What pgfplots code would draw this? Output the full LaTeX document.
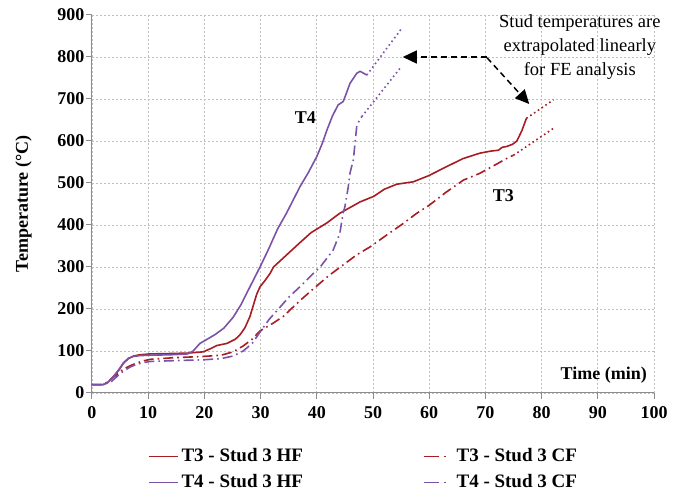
\documentclass[border=0pt]{standalone}
\usepackage{fontspec}
\setmainfont{Liberation Serif}
\usepackage{pgfplots}
\pgfplotsset{compat=1.18}
\usetikzlibrary{arrows.meta}
\definecolor{cred}{RGB}{168,28,36}
\definecolor{cpur}{RGB}{122,82,168}
\definecolor{cgrid}{RGB}{190,190,190}
\definecolor{caxis}{RGB}{140,140,140}
\pgfplotsset{
 hfimg/.style={legend image code/.code={\draw[##1, line width=1.6pt] (0pt,0pt)--(29pt,0pt);}},
 cfimg/.style={legend image code/.code={\draw[##1, line width=1.6pt, dash pattern=on 15pt off 5pt on 2pt off 30pt] (0pt,0pt)--(29pt,0pt);}},
}
\newcommand{\tb}[1]{\textbf{#1}}
\begin{document}
\begin{tikzpicture}
\useasboundingbox (-92pt,-101pt) rectangle (585pt,393pt);
\begin{axis}[
 at={(0,0)}, anchor=south west, clip=false,
 scale only axis, width=562pt, height=378pt,
 xmin=0,xmax=100,ymin=0,ymax=900,
 xtick={0,10,20,30,40,50,60,70,80,90,100}, ytick={0,100,200,300,400,500,600,700,800,900},
 xticklabels={\tb{0},\tb{10},\tb{20},\tb{30},\tb{40},\tb{50},\tb{60},\tb{70},\tb{80},\tb{90},\tb{100}},
 yticklabels={\tb{0},\tb{100},\tb{200},\tb{300},\tb{400},\tb{500},\tb{600},\tb{700},\tb{800},\tb{900}},
 axis x line*=bottom, axis y line*=left,
 axis line style={caxis, line width=1pt, -},
 tick style={caxis, line width=1pt},
 tick align=outside, major tick length=6pt,
 grid=major, major grid style={cgrid, line width=0.8pt, dash pattern=on 2pt off 2pt},
 tick label style={font=\fontsize{18}{20}\selectfont\bfseries},
 xticklabel style={yshift=-4pt},
 yticklabel style={xshift=2pt},
 xlabel={Time (min)}, ylabel={Temperature (°C)},
 label style={font=\fontsize{18}{20}\selectfont\bfseries},
 xlabel style={at={(axis description cs:0.9875,0.046)}, anchor=east, inner sep=0pt},
 ylabel style={at={(axis description cs:-0.122,0.5)}, anchor=center, inner sep=0pt},
 legend columns=2,
 legend style={draw=none, fill=none, at={(axis description cs:0.0996,-0.146)}, anchor=north west,
   inner sep=0pt, outer sep=0pt, font=\fontsize{19}{21}\selectfont\bfseries,
   nodes={inner sep=0pt, text height=13pt, text depth=4pt}, row sep=9pt,
   /tikz/column 1/.style={column sep=3pt}, /tikz/column 2/.style={column sep=120pt},
   /tikz/column 3/.style={column sep=3pt}},
 every axis plot/.append style={line width=1.6pt, line join=round},
]
% T3 HF
\addplot[cred, hfimg] coordinates {
(0,20)(2,20)(2.8,25)(3.8,39)(4.8,55)(5.6,71)(6.5,82)(7.4,88)(8.5,91)(10.3,93)(14,94)(17,95)
(19.8,98)(21,105)(22.2,113)(24,118)(24.6,122)(25.5,128)(26.3,138)(27.2,155)(28.1,182)(29.3,235)
(29.9,253)(30.8,268)(31.7,285)(32.3,300)(34,321)(37,358)(39,382)(41.8,405)(44.1,428)(47.7,455)
(50.1,468)(52,485)(54.2,497)(57.2,503)(60,518)(63.1,539)(66,558)(69,571)(71,576)(72.3,578)
(73,585)(73.8,587)(74.8,592)(75.6,600)(76.5,625)(77.3,654)};
\addlegendentry{T3 - Stud 3 HF}
% T3 CF
\addplot[cred, dash pattern=on 10pt off 4pt on 1.6pt off 4pt, cfimg] coordinates {
(0,20)(2,20)(3.2,31)(4.5,45)(5.6,57)(6.8,65)(7.9,71)(9,76)(10.3,80)(14.5,84)(19.8,87)(23,90)
(25.1,98)(26.9,112)(28.5,128)(29.9,148)(32.2,166)(34,182)(37,220)(39.4,248)(42,278)(45,308)
(47.1,329)(49.5,348)(52,372)(55,400)(57.8,428)(60,447)(63,478)(66.1,507)(69,523)(72,545)(74.4,563)(75,566)};
\addlegendentry{T3 - Stud 3 CF}
% T4 HF
\addplot[cpur, hfimg] coordinates {
(0,20)(2,20)(2.8,25)(3.8,38)(4.8,56)(5.6,72)(6.5,83)(7.4,87)(8.5,89)(10.3,90)(14,91)(17,93)
(18,100)(19.2,118)(20.5,128)(22,140)(23.5,155)(25.1,180)(26.5,210)(28,250)(29.9,300)(31.5,345)
(33,390)(34.6,428)(37,491)(38.5,525)(40,563)(41,595)(41.8,626)(42.8,660)(43.8,686)(44.7,694)
(45.3,715)(45.9,737)(47.1,761)(47.7,766)(48.9,757)};
\addlegendentry{T4 - Stud 3 HF}
% T4 CF
\addplot[cpur, dash pattern=on 10pt off 4pt on 1.6pt off 4pt, cfimg] coordinates {
(0,20)(2,20)(3.5,28)(4.5,40)(5.6,52)(6.8,62)(7.9,68)(9,72)(10.3,75)(14.5,77)(19.8,79)(23,82)
(25.1,88)(26.9,100)(28.5,118)(29.9,145)(31.5,175)(33.5,205)(35,228)(37,253)(39.4,285)(40.6,300)
(42.9,340)(44.1,380)(44.7,430)(45,443)(45.6,491)(45.9,523)(46.5,555)(47.1,634)(47.7,654)(48,658)};
\addlegendentry{T4 - Stud 3 CF}
% extrapolations
\addplot[cred, forget plot, dash pattern=on 1.6pt off 3pt] coordinates {(77.3,654)(82.1,698)};
\addplot[cred, forget plot, dash pattern=on 1.6pt off 3pt] coordinates {(75,566)(82.1,630)};
\addplot[cpur, forget plot, dash pattern=on 1.6pt off 3pt] coordinates {(48.9,757)(55.1,868)};
\addplot[cpur, forget plot, dash pattern=on 1.6pt off 3pt] coordinates {(48,658)(54.8,773)};
% annotations
\node[font=\fontsize{18}{20}\selectfont\bfseries] at (axis cs:37.96,656) {T4};
\node[font=\fontsize{18}{20}\selectfont\bfseries] at (axis cs:73.2,469) {T3};
\node[align=center, font=\fontsize{18.5}{24}\selectfont, inner sep=0pt] at (axis cs:86.8,824)
 {Stud temperatures are\\extrapolated linearly\\for FE analysis};
\draw[black, line width=1.5pt, dash pattern=on 6pt off 4pt, -{Triangle[length=14pt,width=13pt]}]
 (axis cs:70.3,800) -- (axis cs:55.3,800);
\draw[black, line width=1.5pt, dash pattern=on 6pt off 4pt, -{Triangle[length=14pt,width=13pt]}]
 (axis cs:70.3,798) -- (axis cs:77.8,688);
\end{axis}
\end{tikzpicture}
\end{document}
